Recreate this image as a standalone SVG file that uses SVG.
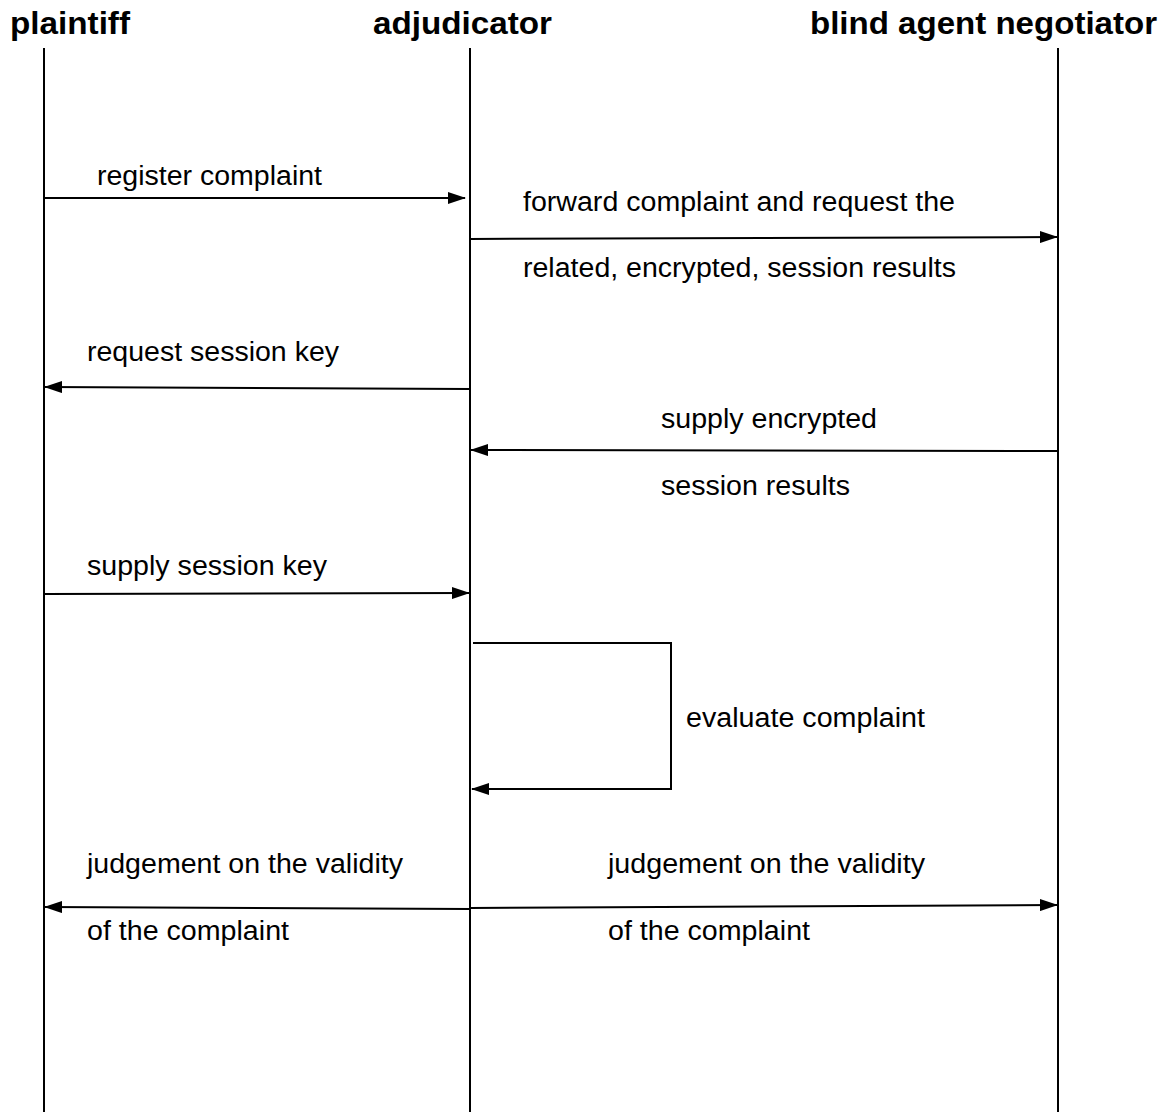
<svg xmlns="http://www.w3.org/2000/svg" width="1167" height="1112" viewBox="0 0 1167 1112">
<style>
.title{font-family:"Liberation Sans",Arial,sans-serif;font-weight:bold;font-size:32px;fill:#000}
.lbl{font-family:"Liberation Sans",Arial,sans-serif;font-size:27px;fill:#000}
.life{stroke:#000;stroke-width:2;fill:none}
.msg{stroke:#000;stroke-width:2;fill:none;marker-end:url(#ah)}
</style>
<defs>
<marker id="ah" markerWidth="18" markerHeight="12" refX="17" refY="6" orient="auto" markerUnits="userSpaceOnUse">
<path d="M0,0 L18,6 L0,12 Z" fill="#000"/>
</marker>
</defs>
<rect width="1167" height="1112" fill="#fff"/>
<g id="plaintiff">
<text class="title" x="10" y="34" textLength="120" lengthAdjust="spacingAndGlyphs">plaintiff</text>
<line class="life" x1="44" y1="48" x2="44" y2="1112"/>
</g>
<g id="adjudicator">
<text class="title" x="373" y="34" textLength="179" lengthAdjust="spacingAndGlyphs">adjudicator</text>
<line class="life" x1="470" y1="48" x2="470" y2="1112"/>
</g>
<g id="negotiator">
<text class="title" x="810" y="34" textLength="347" lengthAdjust="spacingAndGlyphs">blind agent negotiator</text>
<line class="life" x1="1058" y1="48" x2="1058" y2="1112"/>
</g>
<g id="connectors">
<line class="msg" x1="44" y1="198" x2="465" y2="198"/>
<line class="msg" x1="470" y1="239" x2="1057" y2="237"/>
<line class="msg" x1="470" y1="389" x2="45" y2="387"/>
<line class="msg" x1="1058" y1="451" x2="471" y2="450"/>
<line class="msg" x1="44" y1="594" x2="469" y2="593"/>
<polyline class="msg" points="473,643 671,643 671,789 472,789"/>
<line class="msg" x1="470" y1="909" x2="45" y2="907"/>
<line class="msg" x1="470" y1="908" x2="1057" y2="905"/>
</g>
<g id="labels">
<text class="lbl" x="97" y="185" textLength="225" lengthAdjust="spacingAndGlyphs">register complaint</text>
<text class="lbl" x="523" y="211" textLength="432" lengthAdjust="spacingAndGlyphs">forward complaint and request the</text>
<text class="lbl" x="523" y="277" textLength="433" lengthAdjust="spacingAndGlyphs">related, encrypted, session results</text>
<text class="lbl" x="87" y="361" textLength="252" lengthAdjust="spacingAndGlyphs">request session key</text>
<text class="lbl" x="661" y="428" textLength="216" lengthAdjust="spacingAndGlyphs">supply encrypted</text>
<text class="lbl" x="661" y="495" textLength="189" lengthAdjust="spacingAndGlyphs">session results</text>
<text class="lbl" x="87" y="575" textLength="240" lengthAdjust="spacingAndGlyphs">supply session key</text>
<text class="lbl" x="686" y="727" textLength="239" lengthAdjust="spacingAndGlyphs">evaluate complaint</text>
<text class="lbl" x="87" y="873" textLength="316" lengthAdjust="spacingAndGlyphs">judgement on the validity</text>
<text class="lbl" x="87" y="940" textLength="202" lengthAdjust="spacingAndGlyphs">of the complaint</text>
<text class="lbl" x="608" y="873" textLength="317" lengthAdjust="spacingAndGlyphs">judgement on the validity</text>
<text class="lbl" x="608" y="940" textLength="202" lengthAdjust="spacingAndGlyphs">of the complaint</text>
</g>
</svg>
